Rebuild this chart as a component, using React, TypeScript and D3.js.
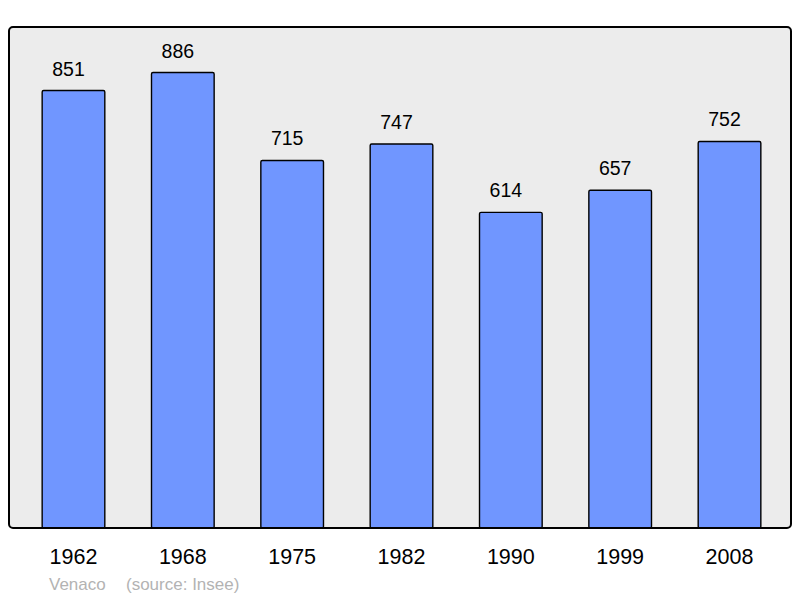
import { useEffect, useRef } from 'react';
import * as d3 from 'd3';

const years = ['1962', '1968', '1975', '1982', '1990', '1999', '2008'];
const population = [851, 886, 715, 747, 614, 657, 752];
const placeName = 'Venaco';
const sourceNote = '(source: Insee)';

const App = () => {
  const svgRef = useRef<SVGSVGElement>(null);

  useEffect(() => {
    const svg = d3.select(svgRef.current);
    svg.selectAll('*').remove();

    // cadre du graphique
    const panel = { left: 9, top: 27, right: 791, bottom: 528 };

    const xScale = d3
      .scaleBand<string>()
      .domain(years)
      .range([11, 792])
      .paddingInner(0.427)
      .paddingOuter(0.285);

    const yScale = d3
      .scaleLinear()
      .domain([0, d3.max(population)! * 1.1])
      .range([panel.bottom, panel.top]);

    svg
      .append('rect')
      .attr('x', panel.left)
      .attr('y', panel.top)
      .attr('width', panel.right - panel.left)
      .attr('height', panel.bottom - panel.top)
      .attr('rx', 4)
      .attr('fill', '#ececec')
      .attr('stroke', 'none');

    // barres
    svg
      .selectAll('.bar')
      .data(population)
      .enter()
      .append('rect')
      .attr('class', 'bar')
      .attr('x', (_, i) => xScale(years[i]) as number)
      .attr('y', (d) => yScale(d))
      .attr('width', xScale.bandwidth())
      .attr('height', (d) => yScale(0) - yScale(d))
      .attr('rx', 1.5)
      .attr('fill', '#7096ff')
      .attr('stroke', '#000')
      .attr('stroke-width', 1.4);

    // contour du cadre par-dessus
    svg
      .append('rect')
      .attr('x', panel.left)
      .attr('y', panel.top)
      .attr('width', panel.right - panel.left)
      .attr('height', panel.bottom - panel.top)
      .attr('rx', 4)
      .attr('fill', 'none')
      .attr('stroke', '#000')
      .attr('stroke-width', 2);

    // valeurs (légèrement décalées à gauche comme l'original)
    svg
      .selectAll('.value')
      .data(population)
      .enter()
      .append('text')
      .attr('class', 'value')
      .attr('x', (_, i) => (xScale(years[i]) as number) + xScale.bandwidth() / 2 - 5)
      .attr('y', (d) => yScale(d) - 15)
      .attr('text-anchor', 'middle')
      .attr('font-family', '"Liberation Sans", Arial, sans-serif')
      .attr('font-size', 19.5)
      .attr('fill', '#000')
      .text((d) => String(d));

    // années
    svg
      .selectAll('.year')
      .data(years)
      .enter()
      .append('text')
      .attr('class', 'year')
      .attr('x', (d) => (xScale(d) as number) + xScale.bandwidth() / 2)
      .attr('y', 564)
      .attr('text-anchor', 'middle')
      .attr('font-family', '"Liberation Sans", Arial, sans-serif')
      .attr('font-size', 21.5)
      .attr('fill', '#000')
      .text((d) => d);

    // source
    const footer = svg
      .append('g')
      .attr('font-family', '"Liberation Sans", Arial, sans-serif')
      .attr('font-size', 17)
      .attr('fill', '#b3b3b3');
    footer.append('text').attr('x', 49).attr('y', 590).text(placeName);
    footer.append('text').attr('x', 126).attr('y', 590).text(sourceNote);
  }, []);

  return (
    <svg
      ref={svgRef}
      width={800}
      height={598}
      style={{ position: 'absolute', left: 0, top: 0, background: '#fff' }}
    />
  );
};

export default App;
